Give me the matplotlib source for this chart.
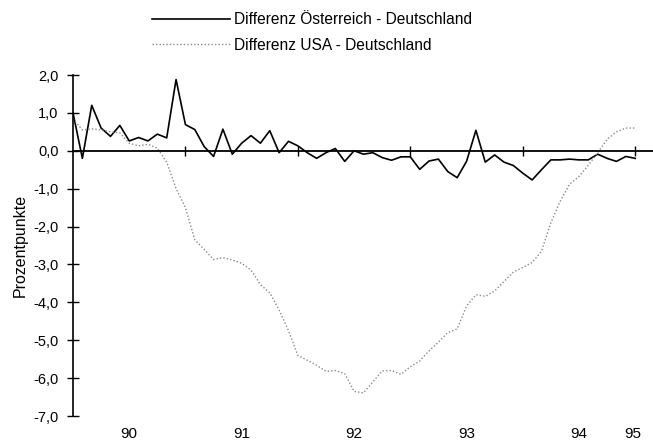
import numpy as np
import matplotlib.pyplot as plt

plt.rcParams['font.family'] = ['Liberation Sans', 'DejaVu Sans']

# monthly values, Jan 1990 .. Jan 1995 (month index 0..60)
austria = [1.0, -0.2, 1.2, 0.6, 0.38, 0.67, 0.26, 0.35, 0.26, 0.44,
           0.34, 1.88, 0.69, 0.56, 0.11, -0.15, 0.57, -0.09, 0.2, 0.4,
           0.2, 0.53, -0.05, 0.25, 0.13, -0.05, -0.2, -0.05, 0.06, -0.28,
           0.0, -0.09, -0.05, -0.18, -0.25, -0.16, -0.16, -0.49, -0.27, -0.22,
           -0.55, -0.71, -0.28, 0.54, -0.3, -0.11, -0.3, -0.39, -0.59, -0.77,
           -0.5, -0.24, -0.24, -0.22, -0.24, -0.24, -0.09, -0.2, -0.28, -0.15,
           -0.2]
usa = [0.85, 0.55, 0.58, 0.55, 0.5, 0.47, 0.2, 0.13, 0.17, 0.07,
       -0.3, -1.0, -1.5, -2.35, -2.6, -2.87, -2.82, -2.88, -2.97, -3.15,
       -3.53, -3.75, -4.2, -4.75, -5.4, -5.53, -5.66, -5.82, -5.8, -5.88,
       -6.35, -6.39, -6.1, -5.81, -5.8, -5.9, -5.7, -5.55, -5.28, -5.05,
       -4.8, -4.7, -4.1, -3.8, -3.84, -3.7, -3.45, -3.2, -3.08, -2.95,
       -2.65, -1.9, -1.33, -0.88, -0.68, -0.38, -0.05, 0.3, 0.5, 0.6,
       0.6]
months = np.arange(len(austria))

year_labels = ['90', '91', '92', '93', '94', '95']
label_pos = [6, 18, 30, 42, 54, 59.7]
year_ticks = [12, 24, 36, 48, 60]
y_ticks = [2, 1, 0, -1, -2, -3, -4, -5, -6, -7]
y_labels = ['2,0', '1,0', '0,0', '-1,0', '-2,0', '-3,0', '-4,0', '-5,0', '-6,0', '-7,0']

fig = plt.figure(figsize=(6.53, 4.41), dpi=100)
ax = fig.add_axes([73/653, 25/441, 580/653, 341/441])

ax.plot(months, austria, color='black', lw=1.2, label='Differenz Österreich - Deutschland')
ax.plot(months, usa, color='#8a8a8a', lw=1.0, ls=(0, (1, 1.5)), label='Differenz USA - Deutschland')

ax.set_xlim(0, 61.9)
ax.set_ylim(-7, 2)

for s in ['top', 'right']:
    ax.spines[s].set_visible(False)
ax.spines['bottom'].set_position(('data', 0))
ax.spines['bottom'].set_linewidth(1.3)
ax.spines['left'].set_linewidth(1.2)

ax.set_yticks(y_ticks)
ax.set_yticklabels(y_labels, fontsize=10.5)
ax.tick_params(axis='y', direction='inout', length=9, width=1, pad=6)

ax.set_xticks(year_ticks)
ax.set_xticklabels([])
ax.tick_params(axis='x', direction='inout', length=7, width=1)

for lab, p in zip(year_labels, label_pos):
    ax.text(p, -0.053, lab, transform=ax.get_xaxis_transform(),
            ha='center', va='center', fontsize=11)

ax.set_ylabel('Prozentpunkte', fontsize=11.5, labelpad=4)

fig.legend(loc='upper left', bbox_to_anchor=(152/653, 1 - 12/441), frameon=False,
           fontsize=11.2, handlelength=5.0, handletextpad=0.3, labelspacing=0.68,
           borderpad=0, borderaxespad=0)

fig.savefig('out.png', dpi=100)
